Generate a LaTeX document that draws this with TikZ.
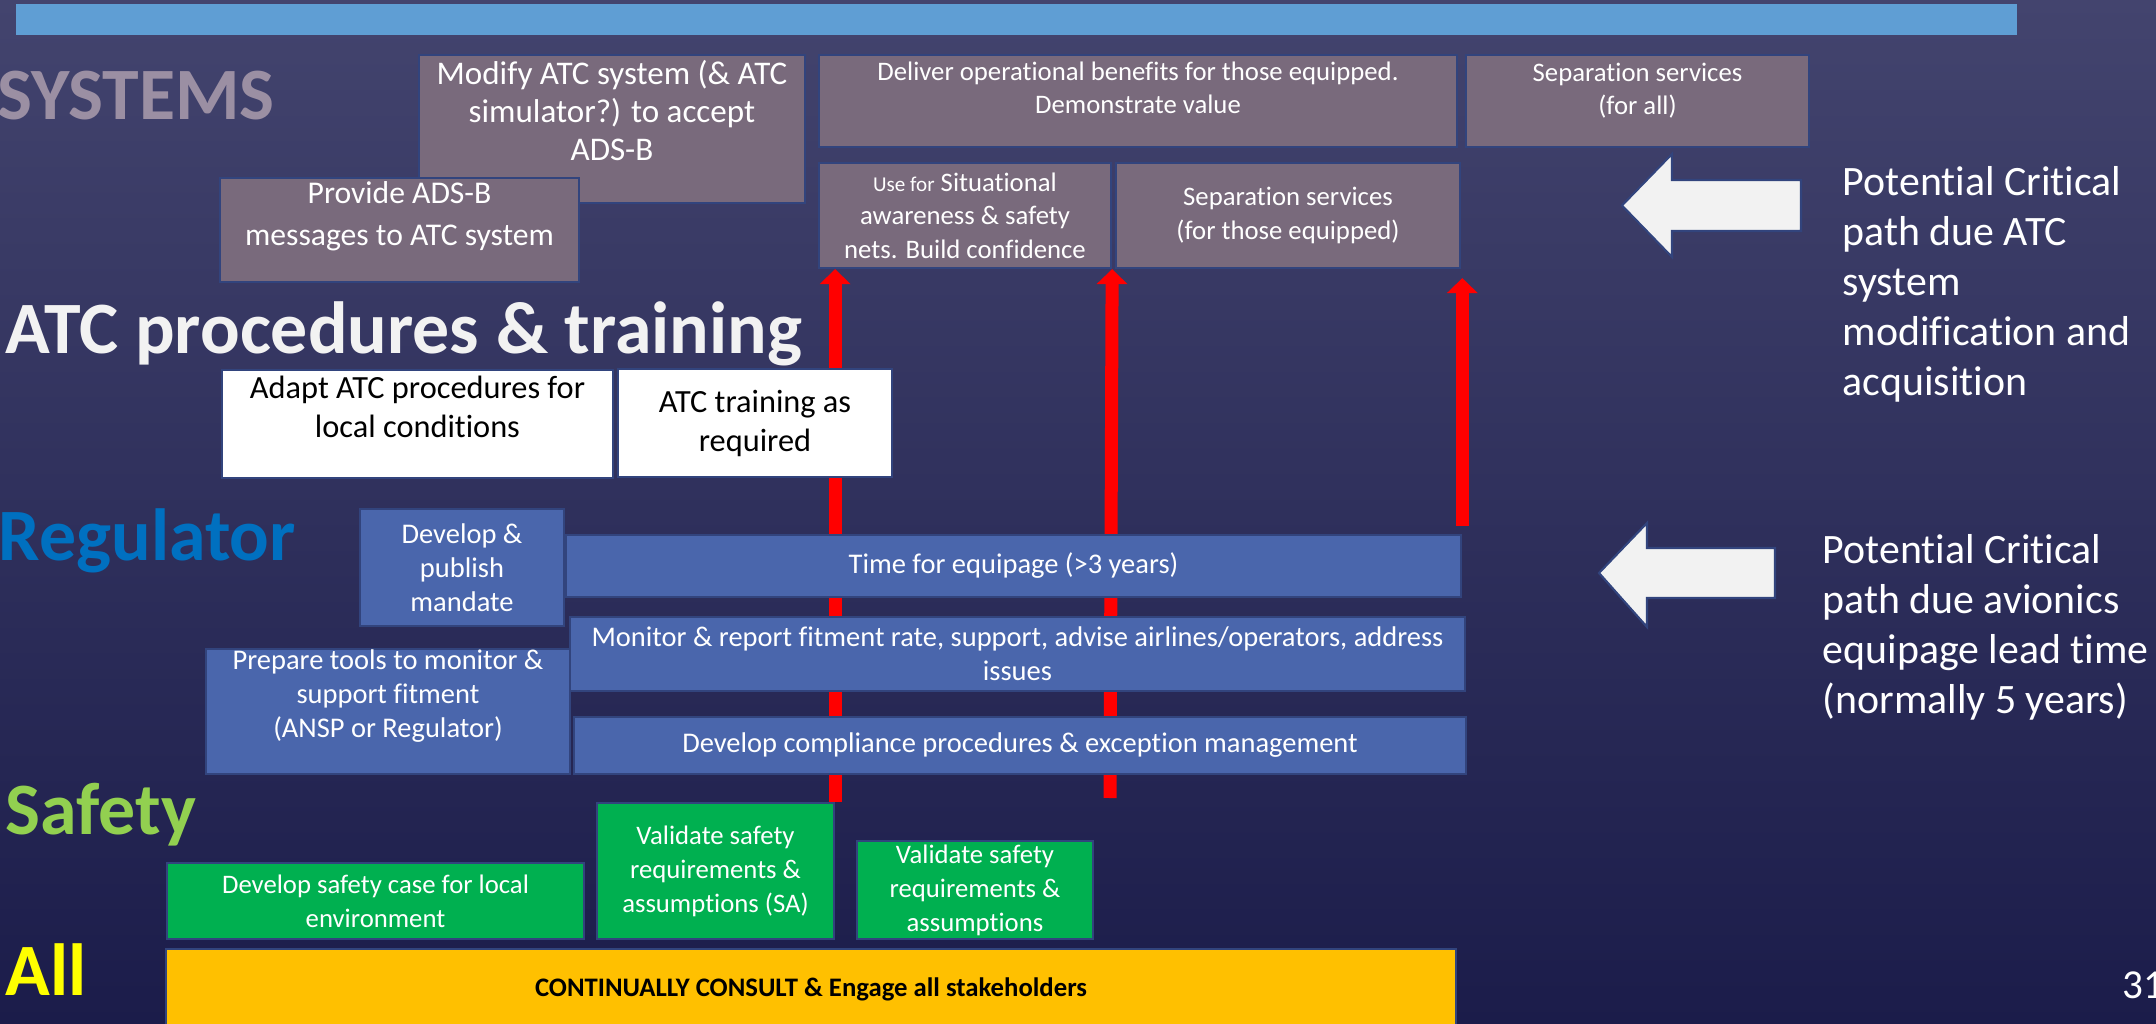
\documentclass[tikz,border=0pt]{standalone}
\usepackage{fontspec}
\setmainfont{Carlito}[Ligatures=NoCommon]
\usetikzlibrary{arrows.meta}
\pgfdeclarelayer{back}
\pgfsetlayers{back,main}
\definecolor{bgtop}{RGB}{67,68,110}
\definecolor{bgbot}{RGB}{27,28,74}
\definecolor{barcol}{RGB}{95,158,212}
\definecolor{boxline}{RGB}{50,68,125}
\definecolor{sysfill}{RGB}{121,106,124}
\definecolor{regfill}{RGB}{74,102,172}
\definecolor{saffill}{RGB}{0,176,80}
\definecolor{allfill}{RGB}{255,192,0}
\definecolor{syscol}{RGB}{155,143,163}
\definecolor{atccol}{RGB}{242,242,242}
\definecolor{regcol}{RGB}{0,112,192}
\definecolor{safcol}{RGB}{146,208,80}
\definecolor{allcol}{RGB}{255,255,0}

\begin{document}
\begin{tikzpicture}[x=0.01cm,y=-0.01cm]
\tikzstyle{box}=[draw=boxline,line width=0.6pt,inner sep=0pt,align=center]
\tikzstyle{sys}=[box,fill=sysfill,text=white,font=\fontsize{7.6}{9.5}\selectfont]
\tikzstyle{systxt}=[inner sep=0pt,align=center,text=white]
\tikzstyle{atcbox}=[box,fill=white,text=black,font=\fontsize{9.2}{11.1}\selectfont]
\tikzstyle{reg}=[box,fill=regfill,text=white,font=\fontsize{8.1}{9.7}\selectfont]
\tikzstyle{saf}=[box,fill=saffill,text=white,font=\fontsize{7.6}{9.7}\selectfont]
\tikzstyle{lane}=[inner sep=0pt,font=\fontsize{21}{24}\bfseries\selectfont]
\tikzstyle{side}=[inner sep=0pt,align=left,text=white,font=\fontsize{11.9}{14.2}\selectfont]
\tikzstyle{critical}=[red,line width=0.13cm,-{Triangle[width=0.3cm,length=0.15cm]}]
\tikzstyle{bigarrow}=[fill=atccol,draw=boxline,line width=0.6pt]
\useasboundingbox (0,0) rectangle (2156,1024);

\fill[barcol] (16,4) rectangle (2017,35);

% lane titles
\foreach \n/\t/\c/\x/\y in {systems/SYSTEMS/syscol/-3/120,atc/ATC procedures \& training/atccol/5/353,regulator/Regulator/regcol/-2/560,safety/Safety/safcol/5/834,all/All/allcol/5/995}
{
\path (\x,\y) node[lane,text=\c,anchor=base west] (\n) {\t};
}

% systems
\path (612,129) node[sys,minimum width=3.86cm,minimum height=1.48cm,
  label={[systxt,font=\fontsize{9.4}{10.8}\selectfont,anchor=north,yshift=-0.06cm]north:Modify ATC system (\& ATC\\simulator?) to accept\\ADS-B}] (modify) {};
\path (399.5,230) node[sys,minimum width=3.59cm,minimum height=1.04cm,
  label={[systxt,font=\fontsize{9}{12}\selectfont,anchor=north,yshift=-0.04cm]north:Provide ADS-B\\messages to ATC system}] (provide) {};
\path (1138,101) node[sys,minimum width=6.38cm,minimum height=0.92cm,
  label={[systxt,font=\fontsize{7.6}{9.5}\selectfont,anchor=north,yshift=-0.07cm]north:Deliver operational benefits for those equipped.\\Demonstrate value}] (deliver) {};
\path (1637.5,101) node[sys,minimum width=3.43cm,minimum height=0.92cm,
  label={[systxt,font=\fontsize{7.6}{9.5}\selectfont,anchor=north,yshift=-0.08cm]north:Separation services\\(for all)}] (sepall) {};
\path (965,215.5) node[sys,minimum width=2.92cm,minimum height=1.05cm] (sa)
  {{\fontsize{6}{9.5}\selectfont Use for} Situational\\awareness \& safety\\nets. Build confidence};
\path (1288,215.5) node[sys,minimum width=3.44cm,minimum height=1.05cm] (sepeq)
  {Separation services\\(for those equipped)};

% ATC procedures & training
\path (417.5,424) node[atcbox,minimum width=3.91cm,minimum height=1.08cm,
  label={[inner sep=0pt,align=center,font=\fontsize{9.2}{11.1}\selectfont,anchor=north,yshift=-0.06cm]north:Adapt ATC procedures for\\local conditions}] (adapt) {};
\path (755,423) node[atcbox,minimum width=2.74cm,minimum height=1.08cm] (train) {ATC training as\\required};

% regulator
\path (462,567.5) node[reg,minimum width=2.04cm,minimum height=1.17cm] (mandate) {Develop \&\\publish\\mandate};
\path (1013.5,566) node[reg,minimum width=8.95cm,minimum height=0.62cm] (time) {Time for equipage (>3 years)};
\path (1017.5,654) node[reg,minimum width=8.95cm,minimum height=0.74cm] (monitor)
  {Monitor \& report fitment rate, support, advise airlines/operators, address\\issues};
\path (388,711.5) node[reg,minimum width=3.64cm,minimum height=1.25cm,
  label={[systxt,font=\fontsize{8.1}{9.7}\selectfont,anchor=north,yshift=-0.01cm]north:Prepare tools to monitor \&\\support fitment\\(ANSP or Regulator)}] (tools) {};
\path (1020,745.5) node[reg,minimum width=8.92cm,minimum height=0.57cm] (comply) {Develop compliance procedures \& exception management};

% safety
\path (375.5,901) node[saf,minimum width=4.17cm,minimum height=0.76cm] (case) {Develop safety case for local\\environment};
\path (715.5,871) node[saf,minimum width=2.37cm,minimum height=1.36cm] (valsa) {Validate safety\\requirements \&\\assumptions (SA)};
\path (975,890) node[saf,minimum width=2.36cm,minimum height=0.98cm] (val) {Validate safety\\requirements \&\\assumptions};

% all
\path (811,989.5) node[box,fill=allfill,text=black,minimum width=12.9cm,minimum height=0.81cm,font=\fontsize{7.6}{9.5}\bfseries\selectfont] (consult) {CONTINUALLY CONSULT \& Engage all stakeholders};

% notes on the right
\draw[bigarrow] (1622,205.5) -- (1672,154) -- (1672,180) -- (1801,180) -- (1801,231) -- (1672,231) -- (1672,257) -- cycle;
\draw[bigarrow] (1599,573) -- (1647,523) -- (1647,548) -- (1775,548) -- (1775,598) -- (1647,598) -- (1647,627) -- cycle;
\path (1842,166) node[side,anchor=north west] (note1) {Potential Critical\\path due ATC\\system\\modification and\\acquisition};
\path (1822,534) node[side,anchor=north west] (note2) {Potential Critical\\path due avionics\\equipage lead time\\(normally 5 years)};
\path (2122,998) node[anchor=base west,inner sep=0pt,text=white,font=\fontsize{11.7}{14}\selectfont] (page) {31};

\coordinate (a2bot) at (1110,798);
\begin{pgfonlayer}{back}
\shade[top color=bgtop,bottom color=bgbot] (0,0) rectangle (2156,1024);
\draw[critical] (valsa.north east) -- (valsa.north east |- sa.south);
\draw[critical] (a2bot) -- (sa.south east);
\draw[critical,shorten <=0.08cm,shorten >=0.09cm] (time.north east) -- (time.north east |- sepeq.south);
\end{pgfonlayer}
\end{tikzpicture}
\end{document}
